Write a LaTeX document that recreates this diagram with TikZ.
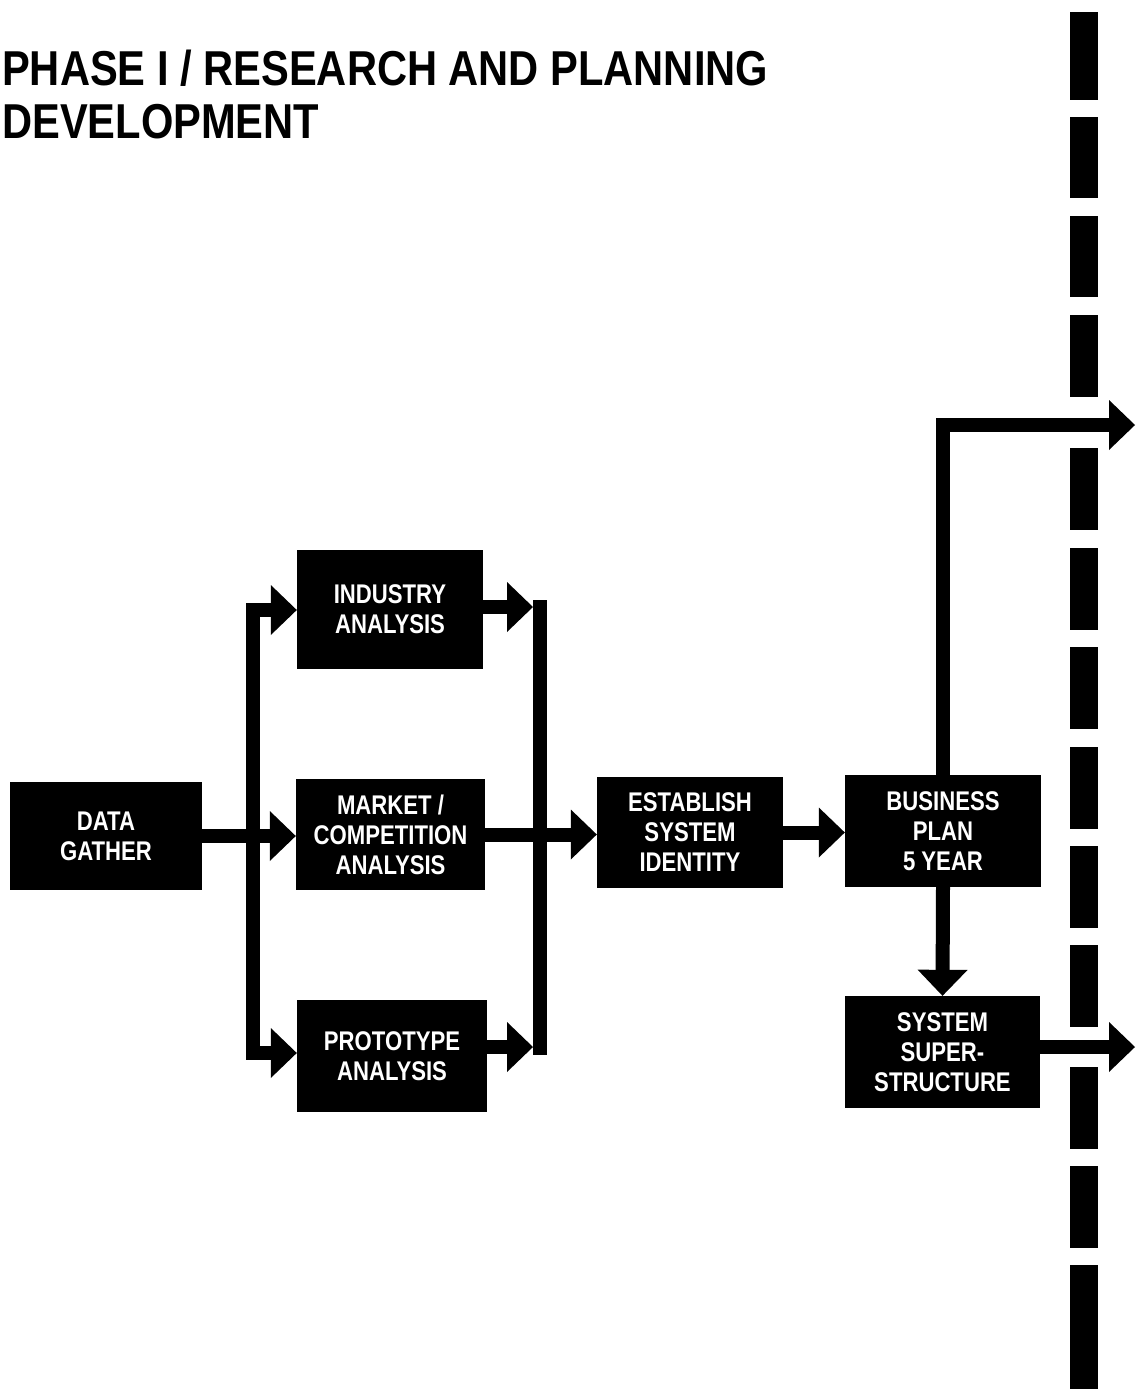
\documentclass[tikz,border=0pt]{standalone}
\usepackage{fontspec}
\setmainfont{Liberation Sans}
\newfontfamily\titlefont[FakeStretch=0.85]{Liberation Sans}
\newfontfamily\boxfont[FakeStretch=0.82]{Liberation Sans}
\usetikzlibrary{arrows.meta}
\begin{document}
\begin{tikzpicture}[x=1pt, y=-1pt,
  blk/.style={fill=black, text=white, inner sep=0pt, align=center,
    font=\boxfont\bfseries\fontsize{27}{30}\selectfont},
  heading/.style={anchor=base west, inner sep=0pt,
    font=\titlefont\bfseries\fontsize{49}{53}\selectfont},
  wire/.style={line width=14pt, line join=miter},
  flow/.style={wire, -{Triangle[length=26pt, width=50pt, line width=0pt]}},
  dashbar/.style={fill=black}
]
\useasboundingbox (0,0) rectangle (1135,1389);

% heading
\node[heading] (title1) at (2,85) {PHASE I / RESEARCH AND PLANNING};
\node[heading] (title2) at (2,138) {DEVELOPMENT};

% process boxes
\node[blk, minimum width=192pt, minimum height=108pt] (data)  at (106,836)   {DATA\\GATHER};
\node[blk, minimum width=186pt, minimum height=119pt] (ind)   at (390,609.5) {INDUSTRY\\ANALYSIS};
\node[blk, minimum width=189pt, minimum height=111pt] (mkt)   at (390.5,834.5) {MARKET /\\COMPETITION\\ANALYSIS};
\node[blk, minimum width=190pt, minimum height=112pt] (proto) at (392,1056)  {PROTOTYPE\\ANALYSIS};
\node[blk, minimum width=186pt, minimum height=111pt] (est)   at (690,832.5) {ESTABLISH\\SYSTEM\\IDENTITY};
\node[blk, minimum width=196pt, minimum height=112pt] (biz)   at (943,831)   {BUSINESS\\PLAN\\5 YEAR};
\node[blk, minimum width=195pt, minimum height=112pt] (sys)   at (942.5,1052) {SYSTEM\\SUPER-\\STRUCTURE};

% phase boundary
\foreach \a/\b in {12/100, 117/198, 216/297, 315/397, 448/530, 548/630,
                   647/729, 747/829, 846/928, 945/1027, 1067/1149,
                   1166/1248, 1265/1389}
  \fill[dashbar] (1070,\a) rectangle (1098,\b);

% bus points and outgoing ends
\coordinate (lt) at (253,610);
\coordinate (lb) at (253,1053);
\coordinate (rt) at (540,600);
\coordinate (rb) at (540,1055);
\coordinate (ri) at (533,607);
\coordinate (rp) at (533,1047);
\coordinate (o1) at (1135,425);
\coordinate (o2) at (1135,1047);

% fan-out from data gathering
\draw[flow] (data.east) -- (data.east -| mkt.west);
\draw[flow] (lb) -- (lt) -- (lt -| ind.west);
\draw[flow] (lt) -- (lb) -- (lb -| proto.west);

% fan-in to the collecting bus
\draw[wire] (rt) -- (rb);
\draw[flow] (ind.east |- ri) -- (ri);
\draw[flow] (proto.east |- rp) -- (rp);
\draw[flow] (mkt.east) -- (mkt.east -| est.west);

% downstream chain
\draw[flow] (est.east) -- (est.east -| biz.west);
\draw[flow] (biz.north) -- (biz.north |- o1) -- (o1);
\draw[flow] (biz.south) -- (sys.north);
\draw[flow] (sys.east |- o2) -- (o2);
\end{tikzpicture}
\end{document}
